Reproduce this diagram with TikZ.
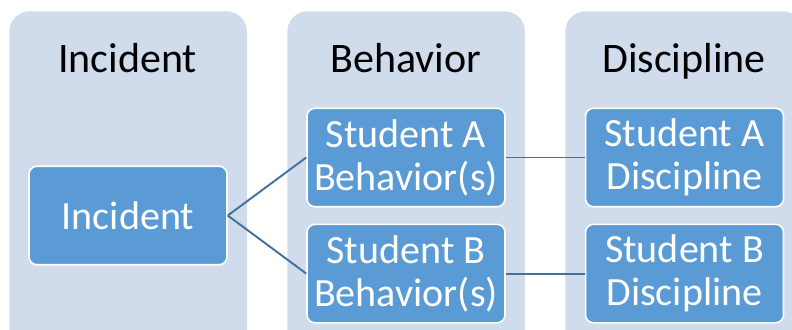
\documentclass[tikz,border=0pt]{standalone}
\usepackage{fontspec}
\setmainfont{Carlito}
\usetikzlibrary{positioning}
\definecolor{panelbg}{RGB}{208,219,236}
\definecolor{boxfill}{RGB}{91,155,213}
\definecolor{linkline}{RGB}{65,113,156}
\tikzset{
    node distance = 0.32cm and 1.58cm,% gap between the student boxes
    panel/.style = {fill=panelbg, rounded corners=0.4cm, anchor=north west, inner sep=0pt,
                    minimum width=4.75cm, minimum height=6.8cm}, % the pale column behind
    head/.style = {anchor=base, font=\fontsize{23.9}{26}\selectfont},
    item/.style = {draw=white, line width=0.9pt, fill=boxfill, text=white, align=center,
                   rounded corners=0.16cm, inner sep=0pt, minimum width=3.96cm,
                   minimum height=1.97cm, font=\fontsize{22.8}{24.4}\selectfont},
    link/.style = {draw=linkline, line width=1.1pt}
}
\begin{document}
\begin{tikzpicture}[x=0.02cm, y=-0.02cm]
  \useasboundingbox (0,0) rectangle (792,329);
  \clip (0,0) rectangle (792,329);
  % columns
  \node [panel] (colinc) at (9,11) {};
  \node [panel] (colbeh) at (287,11) {};
  \node [panel] (coldis) at (565,11) {};
  \node [head] (hinc) at (127.5,72) {Incident};
  \node [head] (hbeh) at (406,72) {Behavior};
  \node [head] (hdis) at (684,72) {Discipline};
  % boxes
  \node [item] (inc) at (128,215.5) {Incident};
  \node [item] (behA) at (406,157.5) {Student A\\Behavior(s)};
  \node [item, below=of behA] (behB) {Student B\\Behavior(s)};
  \node [item, right=of behA] (disA) {Student A\\Discipline};
  \node [item, right=of behB] (disB) {Student B\\Discipline};
  % links
  \draw [link] (inc.east) -- (behA.west);
  \draw [link] (inc.east) -- (behB.west);
  \draw [link] (behA) -- (disA);
  \draw [link] (behB) -- (disB);
\end{tikzpicture}
\end{document}
